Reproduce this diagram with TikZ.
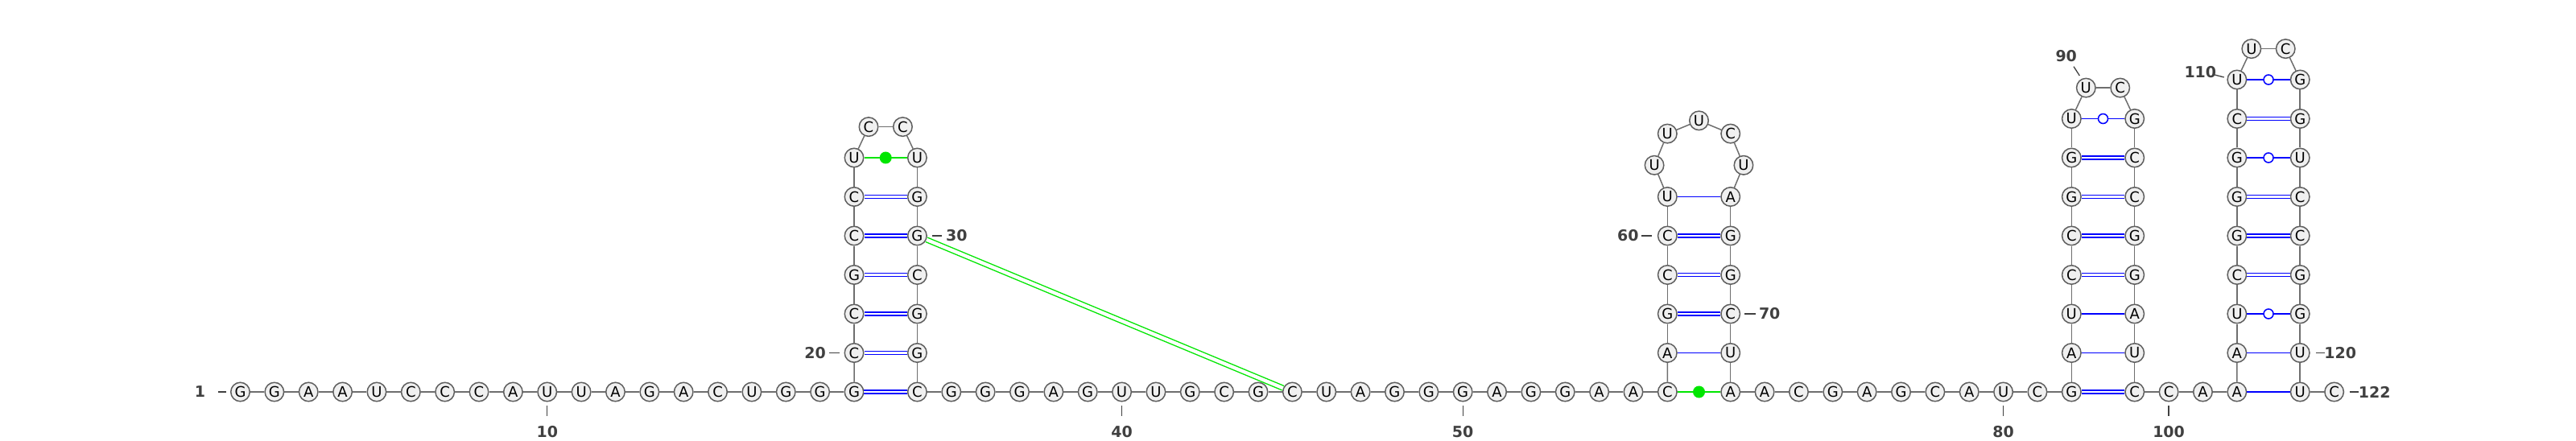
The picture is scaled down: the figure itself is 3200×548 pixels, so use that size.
\documentclass[tikz,border=0pt]{standalone}
\usepackage{fontspec}
\setmainfont{DejaVu Sans}
\usetikzlibrary{calc}
\definecolor{ntborder}{RGB}{95,95,95}
\definecolor{ntfill}{RGB}{240,240,240}
\definecolor{bbcol}{RGB}{110,110,110}
\definecolor{pblue}{RGB}{0,0,255}
\definecolor{ngreen}{RGB}{0,230,0}
\definecolor{labcol}{RGB}{64,64,64}
\begin{document}
\begin{tikzpicture}[x=1pt,y=-1pt,
  nt/.style={circle,draw=ntborder,fill=ntfill,line width=1.5pt,minimum size=23.5pt,inner sep=0pt,font=\fontsize{18}{18}\selectfont},
  bb/.style={draw=bbcol,line width=1.5pt},
  wc/.style={draw=pblue,line width=1.8pt},
  dbl/.style={draw=pblue,line width=1.3pt,double=white,double distance=2.8pt},
  wob/.style={circle,draw=pblue,fill=white,line width=1.5pt,minimum size=12pt,inner sep=0pt},
  gdot/.style={circle,fill=ngreen,minimum size=15pt,inner sep=0pt},
  gl/.style={draw=ngreen,line width=1.7pt},
  gdbl/.style={draw=ngreen,line width=1.4pt,double=white,double distance=4.4pt},
  lab/.style={text=labcol,font=\bfseries\fontsize{19}{19}\selectfont,inner sep=0pt},
  tk/.style={draw=labcol,line width=1.3pt}]
\useasboundingbox (0,0) rectangle (3200,548);
% baseline 1..19
\foreach \i/\t in {1/G,2/G,3/A,4/A,5/U,6/C,7/C,8/C,9/A,10/U,11/U,12/A,13/G,14/A,15/C,16/U,17/G,18/G,19/G}
  \node[nt] (n\i) at ({298.5+(\i-1)*42.36},487) {\t};
% hairpin 1
\foreach \i/\t in {20/C,21/C,22/G,23/C,24/C,25/U}
  \node[nt] (n\i) at (1061,{487-(\i-19)*48.5}) {\t};
\node[nt] (n26) at (1079,157.6) {C};
\node[nt] (n27) at (1121.4,157.6) {C};
\foreach \i/\t in {28/U,29/G,30/G,31/C,32/G,33/G,34/C}
  \node[nt] (n\i) at (1139.4,{487-(34-\i)*48.5}) {\t};
% baseline 35..56
\foreach \i/\t in {35/G,36/G,37/G,38/A,39/G,40/U,41/U,42/G,43/C,44/G,45/C,46/U,47/A,48/G,49/G,50/G,51/A,52/G,53/G,54/A,55/A,56/C}
  \node[nt] (n\i) at ({1139.4+(\i-34)*42.36},487) {\t};
% hairpin 2
\foreach \i/\t in {57/A,58/G,59/C,60/C,61/U}
  \node[nt] (n\i) at (2071.3,{487-(\i-56)*48.5}) {\t};
\foreach \i/\t in {62/U,63/U,64/U,65/C,66/U}
  \node[nt] (n\i) at ({2110.5+55.44*cos(180-(\i-62)*45)},{205.3-55.44*sin(180-(\i-62)*45)}) {\t};
\foreach \i/\t in {67/A,68/G,69/G,70/C,71/U,72/A}
  \node[nt] (n\i) at (2149.7,{487-(72-\i)*48.5}) {\t};
% baseline 73..82
\foreach \i/\t in {73/A,74/C,75/G,76/A,77/G,78/C,79/A,80/U,81/C,82/G}
  \node[nt] (n\i) at ({2149.7+(\i-72)*42.36},487) {\t};
% hairpin 3
\foreach \i/\t in {83/A,84/U,85/C,86/C,87/G,88/G,89/U}
  \node[nt] (n\i) at (2573.3,{487-(\i-82)*48.5}) {\t};
\node[nt] (n90) at (2591.3,109.1) {U};
\node[nt] (n91) at (2633.7,109.1) {C};
\foreach \i/\t in {92/G,93/C,94/C,95/G,96/G,97/A,98/U,99/C}
  \node[nt] (n\i) at (2651.7,{487-(99-\i)*48.5}) {\t};
% baseline 100..102
\foreach \i/\t in {100/C,101/A,102/A}
  \node[nt] (n\i) at ({2651.7+(\i-99)*42.36},487) {\t};
% hairpin 4
\foreach \i/\t in {103/A,104/U,105/C,106/G,107/G,108/G,109/C,110/U}
  \node[nt] (n\i) at (2778.8,{487-(\i-102)*48.5}) {\t};
\node[nt] (n111) at (2796.8,60.6) {U};
\node[nt] (n112) at (2839.2,60.6) {C};
\foreach \i/\t in {113/G,114/G,115/U,116/C,117/C,118/G,119/G,120/U,121/U}
  \node[nt] (n\i) at (2857.2,{487-(121-\i)*48.5}) {\t};
\node[nt] (n122) at (2899.6,487) {C};
% backbone
\foreach \i [evaluate=\i as \j using int(\i+1)] in {1,...,121}
  \draw[bb] (n\i) -- (n\j);
% canonical pairs
\foreach \p/\q in {19/34,20/33,21/32,22/31,23/30,24/29,58/70,59/69,60/68,82/99,85/96,86/95,87/94,88/93,105/118,106/117,107/116,109/114}
  \draw[dbl] (n\p) -- (n\q);
\foreach \p/\q in {57/71,61/67,83/98,84/97,102/121,103/120}
  \draw[wc] (n\p) -- (n\q);
\foreach \p/\q in {89/92,104/119,108/115,110/113}
  \draw[wc] (n\p) -- node[wob] (w\p) {} (n\q);
\foreach \p/\q in {25/28,56/72}
  \draw[gl] (n\p) -- node[gdot] (g\p) {} (n\q);
\draw[gdbl] (n30) -- (n45);
% side labels
\draw[tk] ($(n1)+(-28,0)$) -- ($(n1)+(-18,0)$);
\node[lab] (l1) at ($(n1)+(-50,0)$) {1};
\draw[tk] ($(n20)+(-31,0)$) -- ($(n20)+(-18,0)$);
\node[lab] (l20) at ($(n20)+(-48.5,0)$) {20};
\draw[tk] ($(n30)+(18.5,0)$) -- ($(n30)+(31,0)$);
\node[lab] (l30) at ($(n30)+(49,0)$) {30};
\draw[tk] ($(n60)+(-32,0)$) -- ($(n60)+(-19,0)$);
\node[lab] (l60) at ($(n60)+(-49,0)$) {60};
\draw[tk] ($(n70)+(17.5,0)$) -- ($(n70)+(31,0)$);
\node[lab] (l70) at ($(n70)+(48.5,0)$) {70};
\draw[tk] ($(n120)+(19.5,0)$) -- ($(n120)+(31,0)$);
\node[lab] (l120) at ($(n120)+(50,0)$) {120};
\draw[tk] ($(n122)+(19,0)$) -- ($(n122)+(30,0)$);
\node[lab] (l122) at ($(n122)+(50,0)$) {122};
\draw[tk] ($(n90)+(-15.3,-26.4)$) -- ($(n90)+(-8,-15.1)$);
\node[lab] (l90) at ($(n90)+(-24.6,-39.8)$) {90};
\draw[tk] ($(n110)+(-28.8,-6.3)$) -- ($(n110)+(-16.1,-3)$);
\node[lab] (l110) at ($(n110)+(-45.5,-9)$) {110};
% bottom labels
\foreach \i in {10,40,50,80,100} {
  \draw[tk] ($(n\i)+(0,17)$) -- ($(n\i)+(0,30)$);
  \node[lab] (l\i) at ($(n\i)+(0,49.5)$) {\i};
}
\end{tikzpicture}
\end{document}
